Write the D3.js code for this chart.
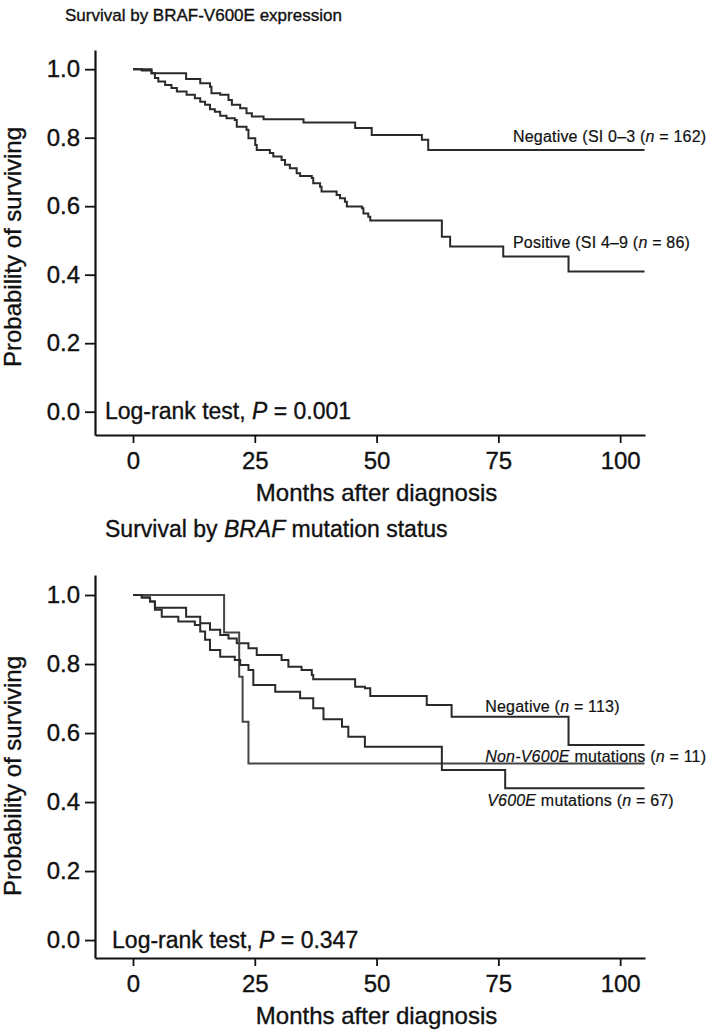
<!DOCTYPE html>
<html>
<head>
<meta charset="utf-8">
<script src="https://cdn.jsdelivr.net/npm/d3@7"></script>
<style>
  body { margin: 0; background: #fff; }
  svg text { font-family: "Liberation Sans", Arial, Helvetica, sans-serif; fill: #111; stroke: #111; stroke-width: 0.35px; }
</style>
</head>
<body>
<div id="chart"></div>
<script>
// survival curves: [months, probability]
var endMonth = 105;
var xTicks = [0, 25, 50, 75, 100];
var yTicks = [0, 0.2, 0.4, 0.6, 0.8, 1.0];

var topNegative = [[0,1],[3.8,0.988],[10.9,0.971],[13.8,0.959],[15.8,0.949],[16.1,0.930],[17.9,0.925],
  [19.6,0.910],[20.3,0.896],[22.0,0.886],[23.3,0.871],[24.4,0.862],[26.8,0.854],[35.0,0.844],
  [45.6,0.828],[49.0,0.808],[59.3,0.794],[60.6,0.764]];
var topPositive = [[0,1],[1.8,0.996],[3.8,0.988],[4.5,0.974],[5.2,0.964],[6.6,0.954],[7.9,0.945],
  [9.0,0.935],[11.0,0.925],[12.7,0.915],[13.8,0.905],[14.8,0.896],[15.8,0.883],[16.8,0.876],
  [17.9,0.864],[19.2,0.857],[20.9,0.852],[21.3,0.832],[23.3,0.823],[23.7,0.798],[25.1,0.779],
  [25.4,0.764],[28.1,0.755],[28.8,0.745],[30.5,0.735],[31.2,0.721],[32.2,0.711],[33.6,0.696],
  [34.3,0.688],[36.7,0.682],[37.0,0.667],[38.4,0.657],[38.7,0.643],[41.8,0.633],[42.5,0.623],
  [43.5,0.613],[43.9,0.599],[47.0,0.594],[47.3,0.579],[48.3,0.569],[48.7,0.558],[63.4,0.511],
  [65.1,0.482],[76.0,0.453],[89.4,0.409]];

var botNegative = [[0,1],[1.8,0.993],[3.5,0.981],[4.5,0.963],[10.9,0.937],[13.8,0.918],[15.8,0.899],
  [17.9,0.884],[19.6,0.874],[21.3,0.860],[23.7,0.846],[25.4,0.826],[30.5,0.812],[31.9,0.792],
  [34.6,0.783],[36.7,0.768],[37.0,0.756],[45.6,0.734],[47.6,0.730],[48.7,0.707],[60.3,0.681],
  [65.4,0.647],[89.4,0.565]];
var botV600E = [[0,1],[1.8,0.993],[3.5,0.981],[4.5,0.957],[5.9,0.937],[9.3,0.923],[12.7,0.913],
  [13.8,0.894],[14.8,0.870],[15.8,0.841],[17.9,0.821],[20.9,0.812],[22.0,0.797],[23.7,0.783],
  [24.7,0.739],[29.2,0.720],[34.3,0.701],[37.0,0.672],[39.1,0.640],[42.9,0.618],[44.2,0.589],
  [47.6,0.560],[63.4,0.493],[76.4,0.440]];
var botNonV600E = [[0,1],[18.7,0.891],[21.8,0.763],[22.5,0.633],[23.7,0.512]];

var width = 710, height = 1031;

var svg = d3.select("#chart").append("svg")
    .attr("width", width)
    .attr("height", height);

// text pieces: [string, italic?]
var panels = [
  {
    title: [["Survival by BRAF-V600E expression", false]],
    titleX: 65, titleY: 21, titleSize: 17,
    top: 50, bottom: 435, yDomain: [-0.068, 1.056],
    ylabelY: 247,
    pText: [["Log-rank test, ", false], ["P", true], [" = 0.001", false]], pAt: [-5.75, -0.021],
    curves: [
      { data: topNegative, color: "#2a2a2a" },
      { data: topPositive, color: "#2a2a2a" }
    ],
    labels: [
      { parts: [["Negative (SI 0\u20133 (", false], ["n", true], [" = 162)", false]], at: [78.0, 0.788] },
      { parts: [["Positive (SI 4\u20139 (", false], ["n", true], [" = 86)", false]], at: [78.0, 0.478] }
    ]
  },
  {
    title: [["Survival by ", false], ["BRAF", true], [" mutation status", false]],
    titleX: 105, titleY: 537, titleSize: 23,
    top: 575, bottom: 958, yDomain: [-0.052, 1.058],
    ylabelY: 776,
    pText: [["Log-rank test, ", false], ["P", true], [" = 0.347", false]], pAt: [-4.3, -0.023],
    curves: [
      { data: botNegative, color: "#2a2a2a" },
      { data: botNonV600E, color: "#444" },
      { data: botV600E, color: "#2a2a2a" }
    ],
    labels: [
      { parts: [["Negative (", false], ["n", true], [" = 113)", false]], at: [72.3, 0.661] },
      { parts: [["Non-V600E", true], [" mutations (", false], ["n", true], [" = 11)", false]], at: [72.3, 0.516] },
      { parts: [["V600E", true], [" mutations (", false], ["n", true], [" = 67)", false]], at: [72.7, 0.388] }
    ]
  }
];

function addParts(sel, parts) {
  parts.forEach(function(p) {
    sel.append("tspan")
      .style("font-style", p[1] ? "italic" : "normal")
      .text(p[0]);
  });
}

var x = d3.scaleLinear().domain([-7.8, 105.1]).range([95, 645]);

var line = function(y) {
  return d3.line()
    .x(function(d) { return x(d[0]); })
    .y(function(d) { return y(d[1]); })
    .curve(d3.curveStepAfter);
};

panels.forEach(function(p) {
  var y = d3.scaleLinear().domain(p.yDomain).range([p.bottom, p.top]);
  var g = svg.append("g");

  g.append("text")
    .attr("x", p.titleX)
    .attr("y", p.titleY)
    .style("font-size", p.titleSize + "px")
    .call(addParts, p.title);

  var xAxis = g.append("g")
    .attr("transform", "translate(0," + p.bottom + ")")
    .call(d3.axisBottom(x).tickValues(xTicks).tickSize(8).tickSizeOuter(0).tickPadding(9));

  var yAxis = g.append("g")
    .attr("transform", "translate(95,0)")
    .call(d3.axisLeft(y).tickValues(yTicks).tickSize(10).tickSizeOuter(0).tickPadding(5)
      .tickFormat(d3.format(".1f")));

  [xAxis, yAxis].forEach(function(a) {
    a.select(".domain").attr("stroke", "#111").attr("stroke-width", 2.2);
    a.selectAll(".tick line").attr("stroke", "#111").attr("stroke-width", 1.8);
    a.selectAll(".tick text")
      .style("font-size", "24px")
      .style("font-family", "'Liberation Sans', Arial, sans-serif")
      .attr("fill", "#111");
  });

  g.append("text")
    .attr("x", x(50))
    .attr("y", p.bottom + 66)
    .attr("text-anchor", "middle")
    .style("font-size", "24px")
    .text("Months after diagnosis");

  g.append("text")
    .attr("transform", "translate(21," + p.ylabelY + ") rotate(-90)")
    .attr("text-anchor", "middle")
    .style("font-size", "24px")
    .text("Probability of surviving");

  g.selectAll("path.km")
    .data(p.curves)
    .enter()
    .append("path")
    .attr("class", "km")
    .attr("fill", "none")
    .attr("stroke", function(d) { return d.color; })
    .attr("stroke-width", 2)
    .attr("d", function(d) {
      var pts = d.data.concat([[endMonth, d.data[d.data.length - 1][1]]]);
      return line(y)(pts);
    });

  g.selectAll("text.lab")
    .data(p.labels)
    .enter()
    .append("text")
    .attr("class", "lab")
    .attr("x", function(d) { return x(d.at[0]); })
    .attr("y", function(d) { return y(d.at[1]); })
    .style("font-size", "16px")
    .style("letter-spacing", "0.2px")
    .style("stroke-width", "0.2px")
    .each(function(d) { addParts(d3.select(this), d.parts); });

  g.append("text")
    .attr("x", x(p.pAt[0]))
    .attr("y", y(p.pAt[1]))
    .style("font-size", "23px")
    .call(addParts, p.pText);
});
</script>
</body>
</html>
